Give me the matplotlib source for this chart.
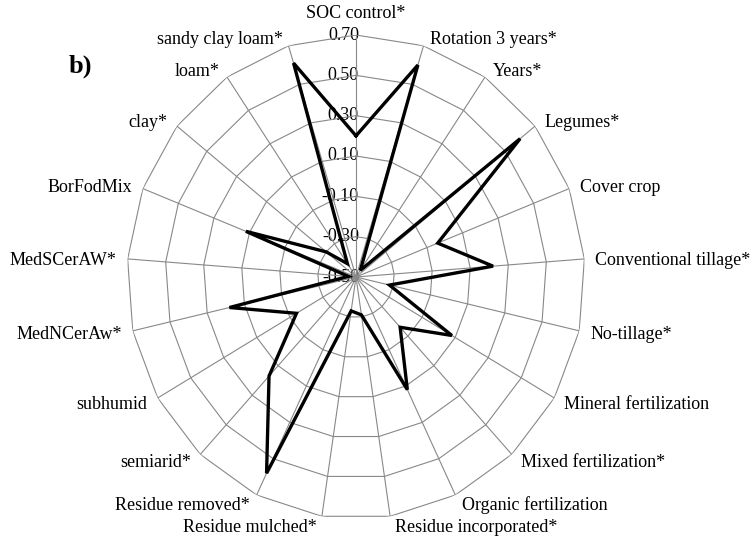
import numpy as np
import matplotlib
matplotlib.use("Agg")
import matplotlib.pyplot as plt

categories = [
    "SOC control*", "Rotation 3 years*", "Years*", "Legumes*", "Cover crop",
    "Conventional tillage*", "No-tillage*", "Mineral fertilization",
    "Mixed fertilization*", "Organic fertilization", "Residue incorporated*",
    "Residue mulched*", "Residue removed*", "semiarid*", "subhumid",
    "MedNCerAw*", "MedSCerAW*", "BorFodMix", "clay*", "loam*",
    "sandy clay loam*",
]
values = [0.20, 0.60, -0.46, 0.60, -0.04, 0.22, -0.32, 0.08, -0.16, 0.12,
          -0.31, -0.33, 0.58, 0.17, -0.14, 0.18, -0.46, 0.12, -0.30, -0.42,
          0.61]
r_ticks = [-0.50, -0.30, -0.10, 0.10, 0.30, 0.50, 0.70]
tick_labels = ["-0.50", "-0.30", "-0.10", "0.10", "0.30", "0.50", "0.70"]
panel_label = "b)"

plt.rcParams["font.family"] = ["Liberation Serif", "DejaVu Serif"]

W, H = 752, 541
fig = plt.figure(figsize=(W / 100, H / 100), dpi=100)
cx, cy, rx, ry = 356, 277, 229, 242
ax = fig.add_axes([(cx - rx) / W, (H - cy - ry) / H, 2 * rx / W, 2 * ry / H],
                  projection="polar")
ax.set_aspect("auto")
ax.set_theta_zero_location("N")
ax.set_theta_direction(-1)
ax.set_ylim(r_ticks[0], r_ticks[-1])
ax.grid(False)
ax.spines["polar"].set_visible(False)
ax.set_xticks([])
ax.set_yticks([])
ax.patch.set_alpha(0)

n = len(categories)
theta = np.arange(n) * 2 * np.pi / n
th_closed = np.append(theta, theta[0])
gcol = "#888888"
for r in r_ticks[1:]:
    ax.plot(th_closed, [r] * (n + 1), color=gcol, lw=0.8, zorder=2)
for t in theta:
    ax.plot([t, t], [r_ticks[0], r_ticks[-1]], color=gcol, lw=0.8, zorder=2)

ax.plot(th_closed, values + [values[0]], color="black", lw=2.4, zorder=4,
        solid_joinstyle="miter")

for r, lab in zip(r_ticks, tick_labels):
    ax.annotate(lab, xy=(0, r), xytext=(3, 0), textcoords="offset pixels",
                ha="right", va="center", fontsize=13, zorder=1,
                annotation_clip=False)

for i, (t, lab) in enumerate(zip(theta, categories)):
    s, c = np.sin(t), np.cos(t)
    if i == 0:
        ax.annotate(lab, xy=(t, r_ticks[-1]), xytext=(0, 22),
                    textcoords="offset pixels", ha="center", va="center",
                    fontsize=13, annotation_clip=False)
        continue
    dx = 4 + 7 * abs(s)
    dy = -(-9 * c + 2)
    ha = "left" if s > 0 else "right"
    ax.annotate(lab, xy=(t, r_ticks[-1]), xytext=(dx if s > 0 else -dx, dy),
                textcoords="offset pixels", ha=ha, va="center", fontsize=13,
                annotation_clip=False)

fig.text(69 / W, 1 - 66 / H, panel_label, fontsize=19, fontweight="bold",
         ha="left", va="center")

fig.savefig("out.png", dpi=100)
